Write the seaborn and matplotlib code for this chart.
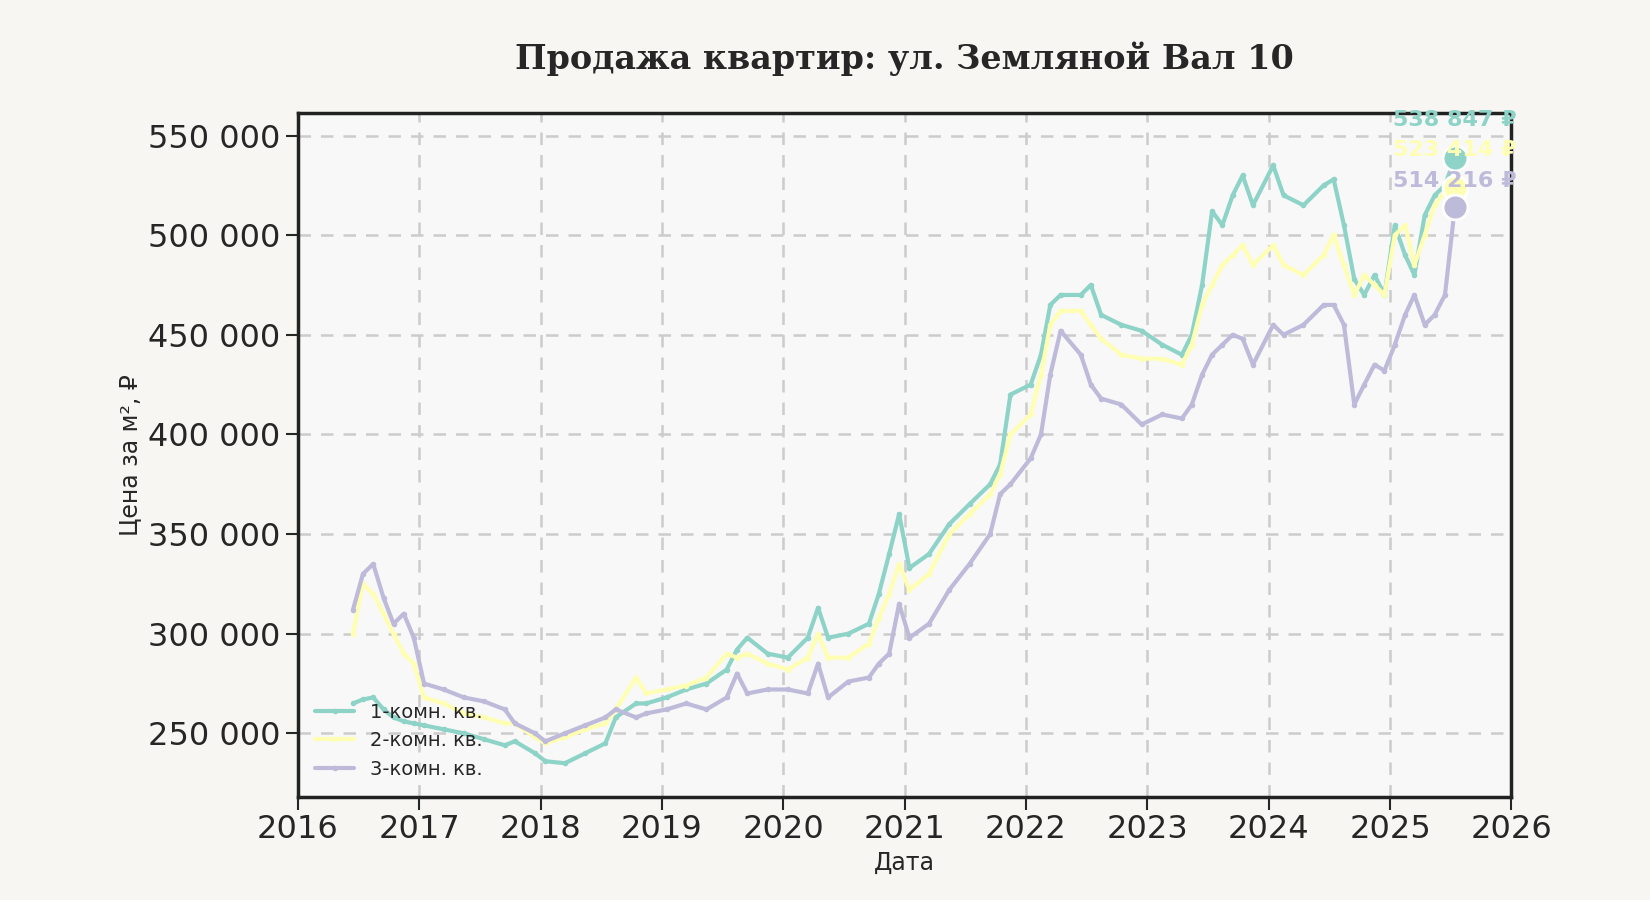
import pandas as pd
import matplotlib
matplotlib.use('Agg')
import matplotlib.pyplot as plt
import matplotlib.ticker as mticker
import seaborn as sns

dates = ['2016-06', '2016-07', '2016-08', '2016-09', '2016-10', '2016-11', '2016-12',
         '2017-01', '2017-03', '2017-05', '2017-07', '2017-09', '2017-10', '2017-12',
         '2018-01', '2018-03', '2018-05', '2018-07', '2018-08', '2018-10', '2018-11',
         '2019-01', '2019-03', '2019-05', '2019-07', '2019-08', '2019-09', '2019-11',
         '2020-01', '2020-03', '2020-04', '2020-05', '2020-07', '2020-09', '2020-10',
         '2020-11', '2020-12', '2021-01', '2021-03', '2021-05', '2021-07', '2021-09',
         '2021-10', '2021-11', '2022-01', '2022-02', '2022-03', '2022-04', '2022-06',
         '2022-07', '2022-08', '2022-10', '2022-12', '2023-02', '2023-04', '2023-05',
         '2023-06', '2023-07', '2023-08', '2023-09', '2023-10', '2023-11', '2024-01',
         '2024-02', '2024-04', '2024-06', '2024-07', '2024-08', '2024-09', '2024-10',
         '2024-11', '2024-12', '2025-01', '2025-02', '2025-03', '2025-04', '2025-05',
         '2025-06', '2025-07']

room1 = [265, 267, 268, 262, 258, 256, 255, 254, 252, 250, 247, 244, 246, 240,
         236, 235, 240, 245, 258, 265, 265, 268, 272, 275, 282, 292, 298, 290,
         288, 298, 313, 298, 300, 305, 320, 340, 360, 333, 340, 355, 365, 375,
         385, 420, 425, 440, 465, 470, 470, 475, 460, 455, 452, 445, 440, 450,
         475, 512, 505, 520, 530, 515, 535, 520, 515, 525, 528, 505, 478, 470,
         480, 470, 505, 490, 480, 510, 520, 525, 538.847]
room2 = [300, 325, 320, 310, 300, 290, 285, 268, 265, 260, 258, 255, 255, 248,
         245, 248, 252, 255, 262, 278, 270, 272, 274, 278, 290, 288, 290, 285,
         282, 288, 300, 288, 288, 295, 308, 320, 335, 322, 330, 350, 360, 370,
         380, 400, 410, 430, 455, 462, 462, 455, 448, 440, 438, 438, 435, 445,
         465, 475, 485, 490, 495, 485, 495, 485, 480, 490, 500, 485, 470, 480,
         475, 470, 500, 505, 485, 500, 515, 522, 523.414]
room3 = [312, 330, 335, 318, 305, 310, 298, 275, 272, 268, 266, 262, 255, 250,
         246, 250, 254, 258, 262, 258, 260, 262, 265, 262, 268, 280, 270, 272,
         272, 270, 285, 268, 276, 278, 285, 290, 315, 298, 305, 322, 335, 350,
         370, 375, 388, 400, 430, 452, 440, 425, 418, 415, 405, 410, 408, 415,
         430, 440, 445, 450, 448, 435, 455, 450, 455, 465, 465, 455, 415, 425,
         435, 432, 445, 460, 470, 455, 460, 470, 514.216]

labels = ['1-комн. кв.', '2-комн. кв.', '3-комн. кв.']
end_texts = ['538 847 ₽', '523 414 ₽', '514 216 ₽']
colors = ['#8dd3c7', '#ffffb3', '#bebada']

df = pd.DataFrame({'Дата': pd.to_datetime(dates) + pd.Timedelta(days=14),
                   labels[0]: [v * 1000 for v in room1],
                   labels[1]: [v * 1000 for v in room2],
                   labels[2]: [v * 1000 for v in room3]})
long = df.melt(id_vars='Дата', var_name='Тип', value_name='Цена')

sns.set_theme(style='ticks')
plt.rcParams['font.family'] = ['DejaVu Sans']

fig = plt.figure(figsize=(16.5, 9), dpi=100, facecolor='#f7f6f2')
ax = fig.add_axes([0.1805, 0.115, 0.7355, 0.759])
ax.set_facecolor('#f8f8f8')

sns.lineplot(data=long, x='Дата', y='Цена', hue='Тип', palette=colors, ax=ax,
             linewidth=3, marker='o', markersize=4, markeredgewidth=0)

last = df.iloc[-1]
text_y = [558000, 542500, 527000]
for lab, col, txt, ty in zip(labels, colors, end_texts, text_y):
    ax.scatter([last['Дата']], [last[lab]], s=320, color=col, edgecolor='white',
               linewidth=2, zorder=5)
    ax.text(pd.Timestamp('2025-01-10'), ty, txt, color=col, fontsize=16,
            fontweight='bold', va='center', ha='left', zorder=6)

ax.set_xlim(pd.Timestamp('2016-01-01'), pd.Timestamp('2026-01-01'))
ax.set_ylim(218300, 561100)
ax.xaxis.set_major_locator(matplotlib.dates.YearLocator())
ax.xaxis.set_major_formatter(matplotlib.dates.DateFormatter('%Y'))
ax.yaxis.set_major_locator(mticker.MultipleLocator(50000))
ax.yaxis.set_major_formatter(mticker.FuncFormatter(lambda v, p: f'{int(v):,}'.replace(',', ' ')))
ax.tick_params(axis='both', labelsize=23, length=9, width=1.5)
ax.grid(True, linestyle='--', color='#cccccc', linewidth=1.8, dashes=(5, 4))
for s in ax.spines.values():
    s.set_linewidth(2.5)
    s.set_color('#222222')

ax.set_xlabel('Дата', fontsize=17)
ax.set_ylabel('Цена за м², ₽', fontsize=17)
ax.set_title('Продажа квартир: ул. Земляной Вал 10', fontsize=24, fontweight='bold',
             family='DejaVu Serif', pad=32)
ax.legend(loc='lower left', frameon=False, fontsize=14, title=None)

fig.savefig('out.png', facecolor=fig.get_facecolor())
